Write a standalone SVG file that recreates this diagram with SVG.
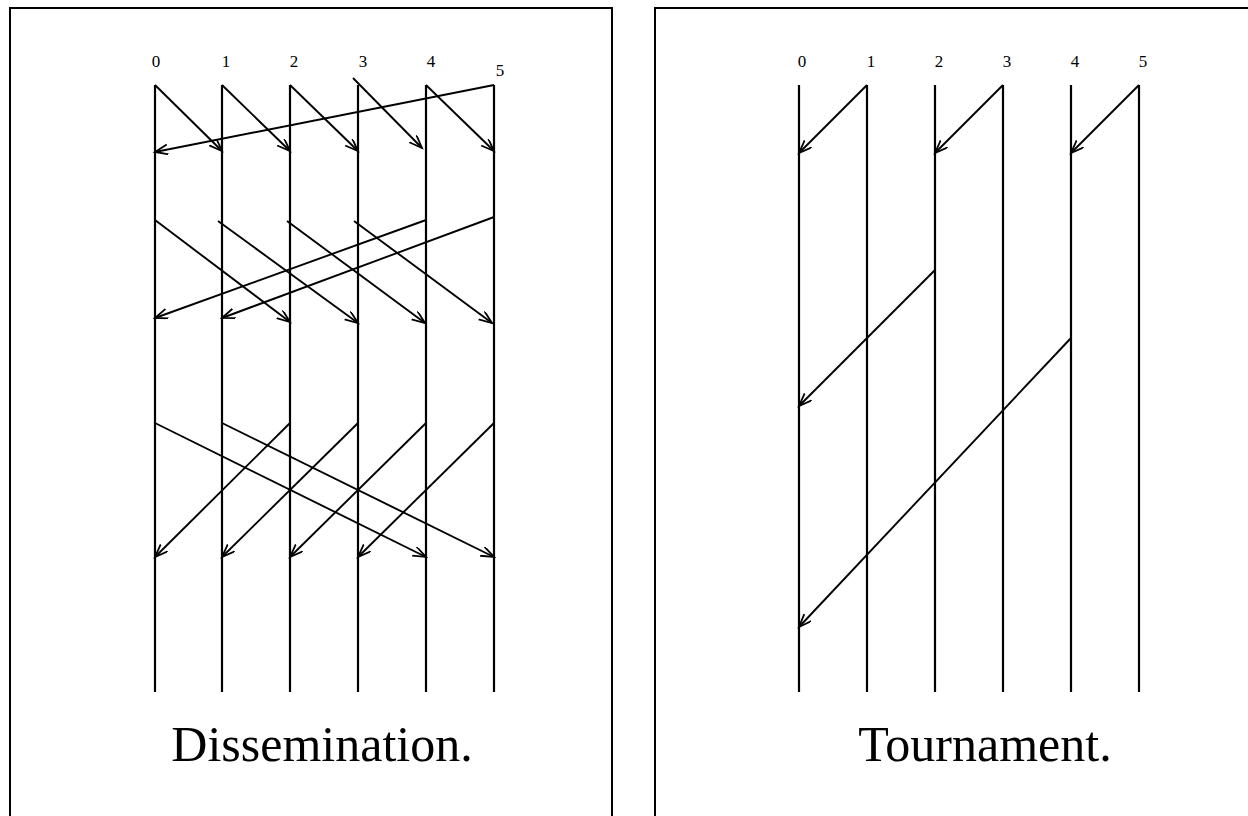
<svg xmlns="http://www.w3.org/2000/svg" width="1248" height="816" viewBox="0 0 1248 816">
<style>
.frame{fill:none;stroke:#000;stroke-width:2}
.v{stroke:#000;stroke-width:2.2}
.a{stroke:#000;stroke-width:1.9;fill:none;marker-end:url(#ah)}
.lbl{font-family:"Liberation Serif",serif;font-size:17px;text-anchor:middle}
.cap{font-family:"Liberation Serif",serif;font-size:50px;text-anchor:middle}
</style>
<defs>
<marker id="ah" markerWidth="16" markerHeight="12" refX="13" refY="5" orient="auto" markerUnits="userSpaceOnUse">
<path d="M0,0 L13,5 L0,10" fill="none" stroke="#000" stroke-width="1.8"/>
</marker>
</defs>
<rect class="frame" x="10" y="8" width="602" height="830"/>
<rect class="frame" x="655" y="8" width="600" height="830"/>
<g id="left-procs">
<line class="v" x1="155" y1="85" x2="155" y2="692"/>
<line class="v" x1="222" y1="85" x2="222" y2="692"/>
<line class="v" x1="290" y1="85" x2="290" y2="692"/>
<line class="v" x1="358" y1="85" x2="358" y2="692"/>
<line class="v" x1="426" y1="85" x2="426" y2="692"/>
<line class="v" x1="494" y1="85" x2="494" y2="692"/>
<text class="lbl" x="156" y="67">0</text>
<text class="lbl" x="226" y="67">1</text>
<text class="lbl" x="294" y="67">2</text>
<text class="lbl" x="363" y="67">3</text>
<text class="lbl" x="431" y="67">4</text>
<text class="lbl" x="500" y="76">5</text>
<text class="cap" x="322" y="761">Dissemination.</text>
</g>
<g id="right-procs">
<line class="v" x1="799" y1="85" x2="799" y2="692"/>
<line class="v" x1="867" y1="85" x2="867" y2="692"/>
<line class="v" x1="935" y1="85" x2="935" y2="692"/>
<line class="v" x1="1003" y1="85" x2="1003" y2="692"/>
<line class="v" x1="1071" y1="85" x2="1071" y2="692"/>
<line class="v" x1="1139" y1="85" x2="1139" y2="692"/>
<text class="lbl" x="802" y="67">0</text>
<text class="lbl" x="871" y="67">1</text>
<text class="lbl" x="939" y="67">2</text>
<text class="lbl" x="1007" y="67">3</text>
<text class="lbl" x="1075" y="67">4</text>
<text class="lbl" x="1143" y="67">5</text>
<text class="cap" x="985" y="761">Tournament.</text>
</g>
<g id="connectors">
<line class="a" x1="155" y1="85" x2="222" y2="151"/>
<line class="a" x1="222" y1="85" x2="290" y2="151"/>
<line class="a" x1="290" y1="85" x2="358" y2="151"/>
<line class="a" x1="353" y1="78" x2="422" y2="148"/>
<line class="a" x1="426" y1="85" x2="494" y2="151"/>
<line class="a" x1="494" y1="85" x2="155" y2="152"/>
<line class="a" x1="155" y1="220" x2="290" y2="322"/>
<line class="a" x1="218" y1="221" x2="358" y2="323"/>
<line class="a" x1="287" y1="221" x2="425" y2="323"/>
<line class="a" x1="354" y1="221" x2="492" y2="323"/>
<line class="a" x1="426" y1="220" x2="155" y2="318"/>
<line class="a" x1="494" y1="217" x2="222" y2="318"/>
<line class="a" x1="155" y1="423" x2="426" y2="557"/>
<line class="a" x1="222" y1="423" x2="494" y2="557"/>
<line class="a" x1="290" y1="423" x2="155" y2="557"/>
<line class="a" x1="358" y1="423" x2="222" y2="557"/>
<line class="a" x1="426" y1="423" x2="290" y2="557"/>
<line class="a" x1="494" y1="423" x2="358" y2="557"/>
<line class="a" x1="867" y1="85" x2="799" y2="153"/>
<line class="a" x1="1003" y1="85" x2="935" y2="153"/>
<line class="a" x1="1139" y1="85" x2="1071" y2="153"/>
<line class="a" x1="935" y1="270" x2="799" y2="406"/>
<line class="a" x1="1071" y1="338" x2="799" y2="627"/>
</g>
</svg>
